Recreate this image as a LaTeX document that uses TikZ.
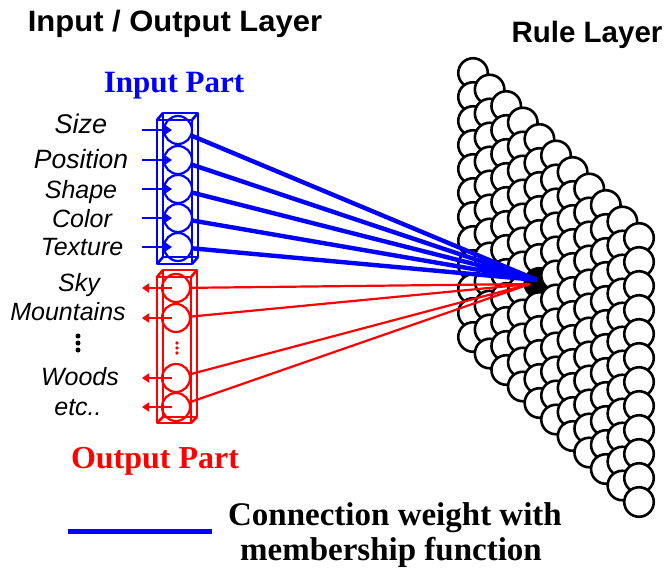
\documentclass[tikz,border=0pt]{standalone}
\usepackage{fontspec}
\setmainfont{Liberation Serif}
\newfontfamily\arialfont{Liberation Sans}
\usetikzlibrary{arrows.meta}

\begin{document}
\begin{tikzpicture}[x=1pt,y=-1pt,
  headline/.style={font=\arialfont\bfseries\fontsize{29.5}{31}\selectfont, anchor=base, inner sep=0pt},
  partname/.style={font=\bfseries\fontsize{31}{33}\selectfont, anchor=base, inner sep=0pt},
  featlabel/.style={font=\arialfont\itshape\fontsize{25}{27}\selectfont, anchor=base, inner sep=0pt},
  legendtext/.style={font=\bfseries\fontsize{33}{35}\selectfont, anchor=base, inner sep=0pt},
  unit/.style={circle, draw, line width=2.2pt, minimum size=28pt, inner sep=0pt},
  rulecell/.style={circle, draw=black, line width=2.6pt, minimum size=29.5pt, inner sep=0pt},
  boxline/.style={line width=2.6pt, line join=round},
  inwire/.style={blue, line width=4.4pt},
  outwire/.style={red, line width=2.2pt},
  inarrow/.style={blue, line width=2.6pt, -{Triangle[length=7pt,width=9pt]}, shorten >=6pt},
  outarrow/.style={red, line width=2.4pt, -{Triangle[length=7pt,width=9pt]}, shorten <=4pt},
]
\useasboundingbox (0,0) rectangle (668,573);

% ---- rule layer: 11 columns of 12 overlapping cells ----
\foreach \c in {0,...,10}{
  \foreach \r in {0,...,11}{
    \ifnum\c=4 \ifnum\r=6 \def\cellfill{black}\else\def\cellfill{white}\fi\else\def\cellfill{white}\fi
    \node[rulecell, fill=\cellfill] (rc-\c-\r) at ({473+16.6*\c},{73+16.5*\c+24*\r}) {};
  }
}
\coordinate (bluehub) at (537,280);
\coordinate (redhub) at (530,284);

% ---- titles ----
\node[headline, xscale=1.05] (ioTitle) at (175,31) {Input / Output Layer};
\node[headline] (ruleTitle) at (587,42) {Rule Layer};
\node[partname, text=blue] (inTitle) at (174,92) {Input Part};
\node[partname, text=red, font=\bfseries\fontsize{32}{34}\selectfont] (outTitle) at (155,468) {Output Part};

% ---- input part ----
\begin{scope}[blue]
  \draw[boxline] (157,120) rectangle (192,264);
  \draw[boxline] (163,113) rectangle (198,257);
  \draw[boxline] (157,120) -- (163,113) (192,120) -- (198,113)
                 (192,264) -- (198,257) (157,264) -- (163,257);
  \node[unit] (in1) at (178,130) {};
  \node[unit] (in2) at (178,160) {};
  \node[unit] (in3) at (178,189) {};
  \node[unit] (in4) at (178,218) {};
  \node[unit] (in5) at (178,247) {};
\end{scope}
\node[featlabel, font=\arialfont\itshape\fontsize{27}{29}\selectfont] (lSize) at (81,133) {Size};
\node[featlabel, font=\arialfont\itshape\fontsize{26.5}{28}\selectfont] (lPos) at (81,168) {Position};
\node[featlabel] (lShape) at (81,198) {Shape};
\node[featlabel] (lColor) at (82,227) {Color};
\node[featlabel] (lTex) at (82,255) {Texture};
\foreach \i/\y in {1/130,2/160,3/189,4/218,5/247}{
  \coordinate (ia\i) at (142,\y);
  \draw[inarrow] (ia\i) -- (in\i.center);
}

% ---- output part ----
\begin{scope}[red]
  \draw[boxline] (157,277) rectangle (191,423);
  \draw[boxline] (163,270) rectangle (197,417);
  \draw[boxline] (157,277) -- (163,270) (191,277) -- (197,270)
                 (191,423) -- (197,417) (157,423) -- (163,417);
  \node[unit] (out1) at (176,288) {};
  \node[unit] (out2) at (176,318) {};
  \node[unit] (out3) at (176,378) {};
  \node[unit] (out4) at (176,407) {};
  \fill (177,343) circle (1.9);
  \fill (177,348) circle (1.9);
  \fill (177,353) circle (1.9);
\end{scope}
\node[featlabel] (lSky) at (79,291) {Sky};
\node[featlabel] (lMount) at (68,320) {Mountains};
\fill (78,336) circle (2.5);
\fill (78,343) circle (2.5);
\fill (78,350) circle (2.5);
\node[featlabel] (lWoods) at (80,385) {Woods};
\node[featlabel] (lEtc) at (78,415) {etc..};
\foreach \i/\y in {1/288,2/318,3/378,4/407}{
  \coordinate (oa\i) at (142,\y);
  \draw[outarrow] (out\i.center) -- (oa\i);
}

% ---- weighted connections into the rule layer ----
\foreach \i in {1,...,5}{ \draw[inwire] (in\i) -- (bluehub); }
\foreach \i in {1,...,4}{ \draw[outwire] (out\i) -- (redhub); }

% ---- legend ----
\coordinate (legA) at (68,531);
\coordinate (legB) at (212,531);
\draw[blue, line width=5pt] (legA) -- (legB);
\node[legendtext] (leg1) at (395,525) {Connection weight with};
\node[legendtext] (leg2) at (391,560) {membership function};
\end{tikzpicture}
\end{document}
